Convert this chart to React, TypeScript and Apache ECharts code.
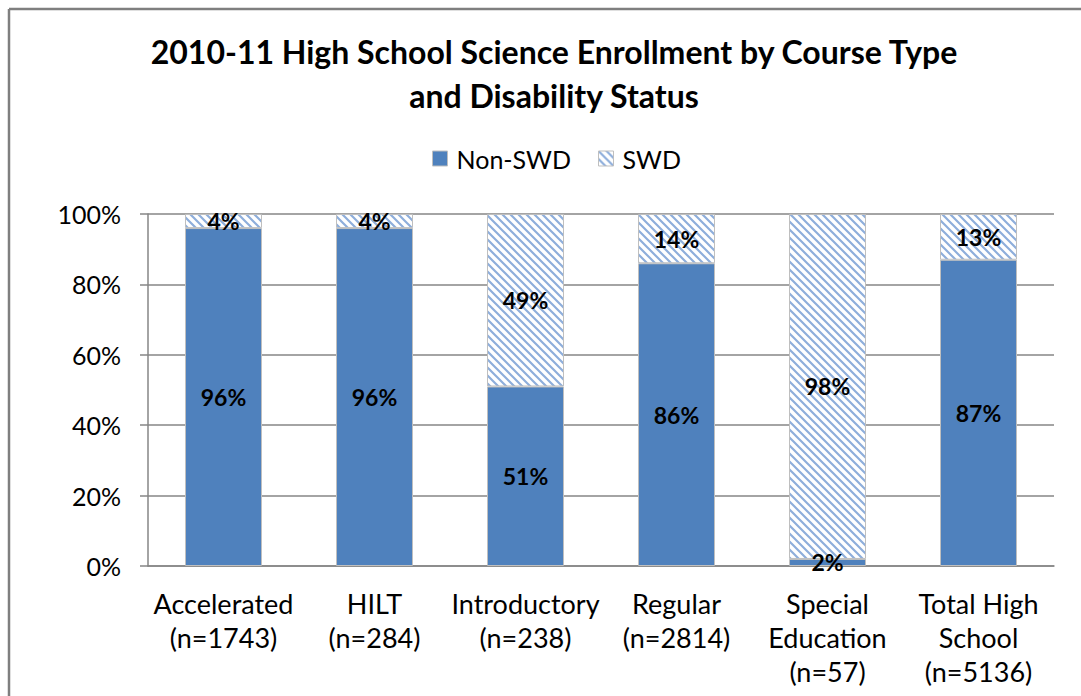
import React, { useEffect, useRef } from "react";
import * as echarts from "echarts";

const categories = [
  "Accelerated\n(n=1743)",
  "HILT\n(n=284)",
  "Introductory\n(n=238)",
  "Regular\n(n=2814)",
  "Special\nEducation\n(n=57)",
  "Total High\nSchool\n(n=5136)",
];
const nonSwd = [96, 96, 51, 86, 2, 87];
const swd = [4, 4, 49, 14, 98, 13];
const titleText = "2010-11 High School Science Enrollment by Course Type\nand Disability Status";

function makeHatch(): HTMLCanvasElement {
  const c = document.createElement("canvas");
  c.width = 8;
  c.height = 8;
  const ctx = c.getContext("2d")!;
  ctx.fillStyle = "#ffffff";
  ctx.fillRect(0, 0, 8, 8);
  ctx.strokeStyle = "#8eaedb";
  ctx.lineWidth = 2.2;
  ctx.beginPath();
  ctx.moveTo(-2, -2);
  ctx.lineTo(10, 10);
  ctx.moveTo(-2, 6);
  ctx.lineTo(2, 10);
  ctx.moveTo(6, -2);
  ctx.lineTo(10, 2);
  ctx.stroke();
  return c;
}

export default function App() {
  const ref = useRef<HTMLDivElement>(null);
  useEffect(() => {
    if (!ref.current) return;
    const chart = echarts.init(ref.current, undefined, { renderer: "svg" });
    const font = "Lato";
    const hatch = makeHatch();
    chart.setOption({
      animation: false,
      backgroundColor: "#ffffff",
      title: {
        text: titleText,
        left: 549,
        top: 24,
        textAlign: "center",
        textStyle: {
          fontFamily: font,
          fontWeight: "bold",
          fontSize: 32,
          lineHeight: 44,
          color: "#000",
        },
      },
      legend: {
        left: 432,
        top: 146,
        padding: 0,
        itemWidth: 15,
        itemHeight: 15,
        itemGap: 27,
        icon: "rect",
        textStyle: { fontFamily: font, fontSize: 25, color: "#000", padding: [0, 0, 0, 4] },
        data: [
          { name: "Non-SWD", itemStyle: { borderColor: "#bfbfbf", borderWidth: 1 } },
          { name: "SWD", itemStyle: { borderColor: "#bfbfbf", borderWidth: 1 } },
        ],
      },
      grid: { left: 148, right: 27, top: 214, bottom: 130, containLabel: false },
      xAxis: {
        type: "category",
        data: categories,
        axisLine: { lineStyle: { color: "#868686", width: 1.5 } },
        axisTick: { show: false },
        axisLabel: {
          interval: 0,
          margin: 20,
          fontFamily: font,
          fontSize: 27,
          lineHeight: 34,
          color: "#000",
        },
      },
      yAxis: {
        type: "value",
        min: 0,
        max: 100,
        interval: 20,
        axisLine: { show: true, lineStyle: { color: "#868686", width: 1.5 } },
        axisTick: { show: true, length: 8, lineStyle: { color: "#868686", width: 1.5 } },
        splitLine: { lineStyle: { color: "#868686", width: 1.5 } },
        axisLabel: {
          formatter: "{value}%",
          margin: 27,
          fontFamily: font,
          fontSize: 25,
          color: "#000",
        },
      },
      series: [
        {
          name: "Non-SWD",
          type: "bar",
          stack: "total",
          barWidth: 77,
          data: nonSwd,
          itemStyle: { color: "#4f81bd", borderColor: "#bfbfbf", borderWidth: 1 },
          label: {
            show: true,
            position: "inside",
            formatter: "{c}%",
            fontFamily: font,
            fontWeight: "bold",
            fontSize: 23,
            color: "#000",
          },
        },
        {
          name: "SWD",
          type: "bar",
          stack: "total",
          barWidth: 77,
          data: swd,
          itemStyle: {
            color: { image: hatch, repeat: "repeat" },
            borderColor: "#bfbfbf",
            borderWidth: 1,
          },
          label: {
            show: true,
            position: "inside",
            formatter: "{c}%",
            fontFamily: font,
            fontWeight: "bold",
            fontSize: 23,
            color: "#000",
          },
        },
      ],
      graphic: [
        {
          type: "line",
          shape: { x1: 9, y1: 9, x2: 1081, y2: 9 },
          style: { stroke: "#7f7f7f", lineWidth: 2.5 },
        },
        {
          type: "line",
          shape: { x1: 9, y1: 9, x2: 9, y2: 696 },
          style: { stroke: "#7f7f7f", lineWidth: 2.5 },
        },
      ],
    });
    return () => chart.dispose();
  }, []);
  return (
    <div
      ref={ref}
      style={{ position: "fixed", left: 0, top: 0, width: 1081, height: 696 }}
    />
  );
}
